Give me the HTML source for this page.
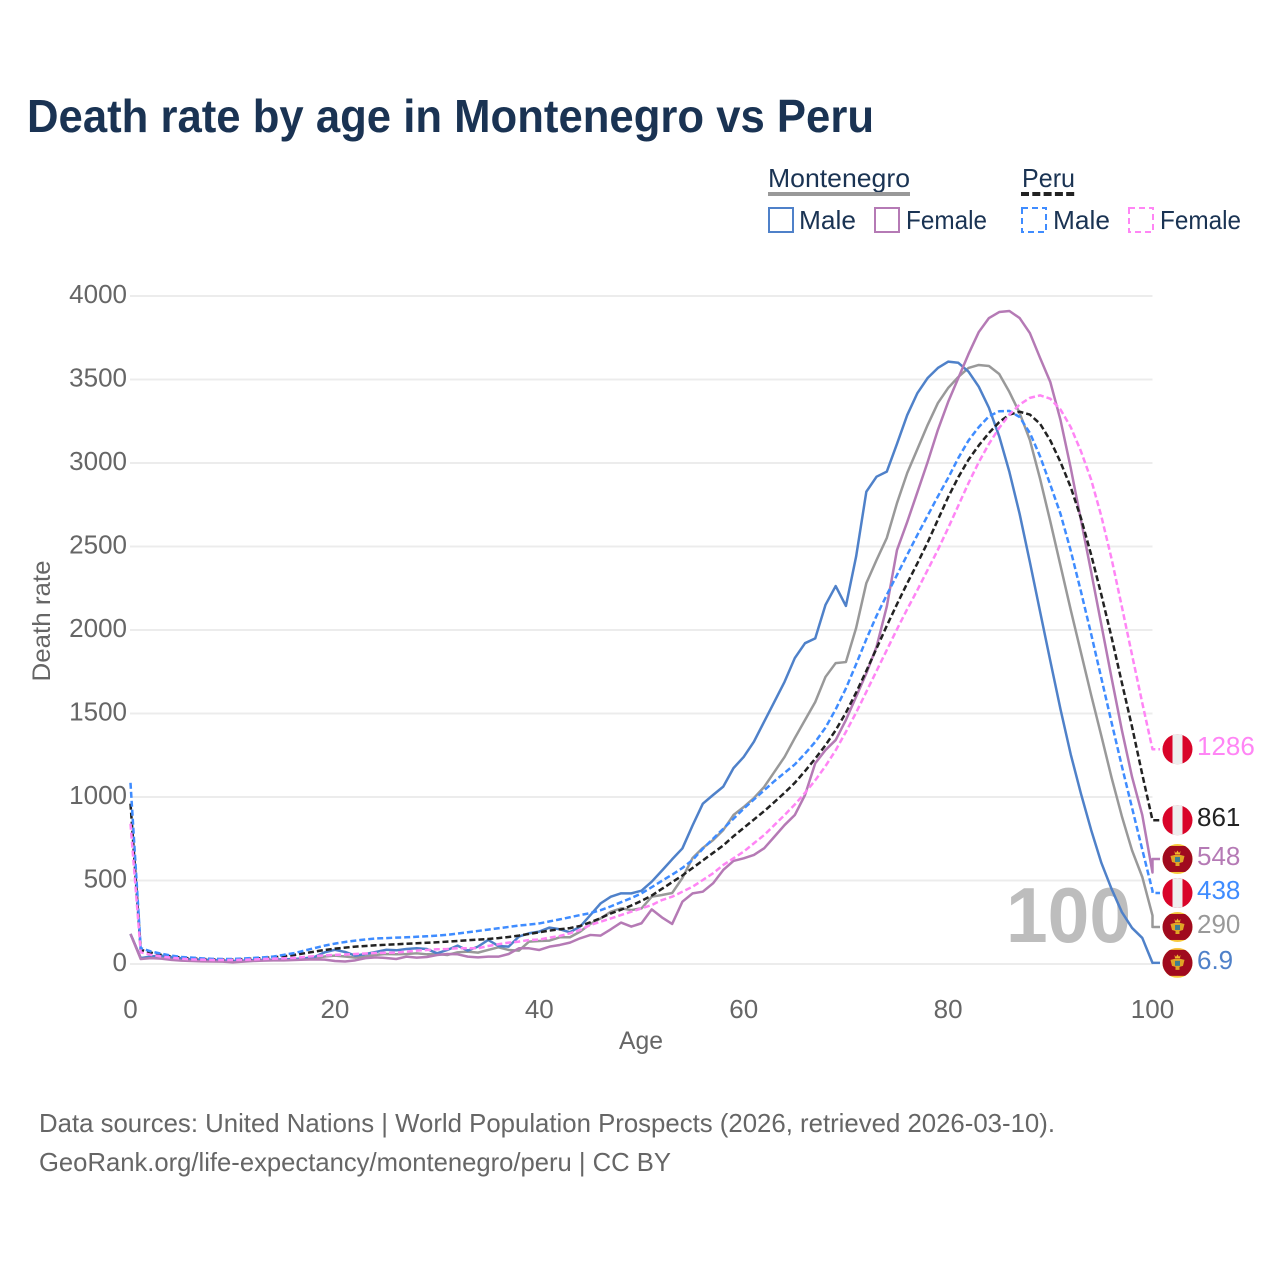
<!DOCTYPE html>
<html lang="en">
<head>
<meta charset="utf-8">
<title>Death rate by age in Montenegro vs Peru</title>
<style>
html,body{margin:0;padding:0;background:#fff;}
svg{display:block;font-family:"Liberation Sans",sans-serif;}
</style>
</head>
<body>
<svg id="chart" width="1280" height="1280" viewBox="0 0 1280 1280" xmlns="http://www.w3.org/2000/svg">
  <defs>
    <clipPath id="flag-clip"><circle cx="0" cy="0" r="15"/></clipPath>
    <symbol id="flag-peru" overflow="visible" viewBox="-15 -15 30 30" width="30" height="30">
      <g clip-path="url(#flag-clip)">
        <rect x="-15" y="-15" width="30" height="30" fill="#d90429"/>
        <rect x="-5" y="-15" width="10" height="30" fill="#eeeeee"/>
      </g>
    </symbol>
    <symbol id="flag-montenegro" overflow="visible" viewBox="-15 -15 30 30" width="30" height="30">
      <g clip-path="url(#flag-clip)">
        <rect x="-15" y="-15" width="30" height="30" fill="#f7c93e"/>
        <rect x="-15" y="-13" width="30" height="26" fill="#a00a1e"/>
        <path d="M-3 -8 L-1.5 -6 L0 -8.5 L1.5 -6 L3 -8 L2.5 -4.5 L-2.5 -4.5 Z" fill="#f0b92d"/>
        <path d="M-7 -3 L-3 -4 L3 -4 L7 -3 L5.5 3 L2 4 L2 7 L-2 7 L-2 4 L-5.5 3 Z" fill="#e0a526"/>
        <rect x="-2.5" y="-2" width="5" height="5" fill="#3f7f8f"/>
      </g>
    </symbol>
  </defs>

  <text x="27" y="132" font-size="46" font-weight="700" fill="#1a3353" textLength="847" lengthAdjust="spacingAndGlyphs">Death rate by age in Montenegro vs Peru</text>

  <g>
    <text x="768" y="187" font-size="26" fill="#1a3353" textLength="142" lengthAdjust="spacingAndGlyphs">Montenegro</text>
    <rect x="768" y="192" width="142" height="4" fill="#999999"/>
    <text x="1022" y="187" font-size="26" fill="#1a3353" textLength="53" lengthAdjust="spacingAndGlyphs">Peru</text>
    <line x1="1021" y1="194" x2="1075" y2="194" stroke="#222222" stroke-width="4" stroke-dasharray="8,3.3"/>

    <rect x="769" y="208" width="24" height="24" fill="none" stroke="#4f81c9" stroke-width="2"/>
    <text x="799" y="229" font-size="26" fill="#1a3353" textLength="57" lengthAdjust="spacingAndGlyphs">Male</text>
    <rect x="875" y="208" width="24" height="24" fill="none" stroke="#b57ab5" stroke-width="2"/>
    <text x="906" y="229" font-size="26" fill="#1a3353" textLength="81" lengthAdjust="spacingAndGlyphs">Female</text>
    <rect x="1022" y="208" width="24" height="24" fill="none" stroke="#3f8cff" stroke-width="2" stroke-dasharray="6,4"/>
    <text x="1053" y="229" font-size="26" fill="#1a3353" textLength="57" lengthAdjust="spacingAndGlyphs">Male</text>
    <rect x="1129" y="208" width="24" height="24" fill="none" stroke="#ff85f5" stroke-width="2" stroke-dasharray="6,4"/>
    <text x="1160" y="229" font-size="26" fill="#1a3353" textLength="81" lengthAdjust="spacingAndGlyphs">Female</text>
  </g>

  <g id="grid"></g>
  <g id="y-ticks"></g>
  <g id="x-ticks"></g>

  <text x="1006" y="942" font-size="78" font-weight="700" fill="#bdbdbd" textLength="125" lengthAdjust="spacingAndGlyphs">100</text>

  <text x="641" y="1049" font-size="25" fill="#666666" text-anchor="middle" textLength="44" lengthAdjust="spacingAndGlyphs">Age</text>
  <text transform="translate(50,621) rotate(-90)" font-size="25" fill="#666666" text-anchor="middle" textLength="121" lengthAdjust="spacingAndGlyphs">Death rate</text>

  <g id="series"></g>
  <g id="end-labels"></g>

  <text x="39" y="1132" font-size="26" fill="#666666" textLength="1016" lengthAdjust="spacingAndGlyphs">Data sources: United Nations | World Population Prospects (2026, retrieved 2026-03-10).</text>
  <text x="39" y="1171" font-size="26" fill="#666666" textLength="632" lengthAdjust="spacingAndGlyphs">GeoRank.org/life-expectancy/montenegro/peru | CC BY</text>
</svg>

<script>
const yTickValues = [0, 500, 1000, 1500, 2000, 2500, 3000, 3500, 4000];
const xTickValues = [0, 20, 40, 60, 80, 100];

const montenegroTotal = [
  180,35,40,40,33,27,24,21,20,18,
  15,17,20,23,25,25,27,30,35,45,
  50,45,38,45,55,60,58,60,64,58,
  60,54,70,74,68,84,100,84,80,134,
  138,140,160,160,194,240,273,313,333,323,
  333,403,413,425,515,635,695,742,802,892,
  940,994,1060,1150,1240,1353,1461,1569,1719,1802,
  1808,2012,2281,2419,2551,2760,2940,3084,3228,3359,
  3449,3515,3569,3587,3581,3533,3425,3299,3138,2905,
  2650,2385,2120,1865,1610,1365,1115,885,680,521,
  290];
const montenegroMale = [
  180,35,45,50,42,34,28,26,24,22,
  18,20,23,25,26,28,30,34,42,70,
  85,72,50,60,72,85,82,90,94,90,
  64,84,110,80,104,144,108,104,164,184,
  194,218,208,190,224,293,363,403,423,423,
  439,493,559,627,692,830,960,1012,1062,1173,
  1240,1331,1451,1570,1690,1832,1921,1950,2150,2263,
  2144,2440,2828,2918,2948,3115,3287,3419,3509,3569,
  3607,3600,3547,3457,3330,3160,2946,2695,2407,2110,
  1815,1525,1255,1020,802,605,449,311,216,156,
  6.9];
const montenegroFemale = [
  180,30,35,32,25,20,18,16,15,14,
  10,14,18,20,22,22,24,26,28,26,
  18,15,22,35,40,36,30,44,38,42,
  54,60,58,44,40,44,44,60,94,94,
  84,104,114,128,154,174,170,208,248,224,
  244,327,279,240,373,423,433,483,563,617,
  633,653,693,762,832,892,1012,1202,1281,1341,
  1461,1600,1740,1900,2140,2479,2647,2826,3006,3198,
  3365,3509,3653,3784,3868,3904,3910,3868,3778,3629,
  3485,3257,2970,2658,2347,2030,1712,1401,1120,892,
  548];
const peruTotal = [
  960,85,68,55,45,38,33,30,28,27,
  27,29,32,36,40,46,54,64,74,84,
  92,98,104,108,112,115,118,121,124,127,
  130,134,138,142,146,150,155,162,170,180,
  190,200,208,215,228,250,275,303,325,350,
  378,410,450,490,530,575,620,665,710,765,
  815,865,915,970,1025,1085,1155,1230,1310,1400,
  1505,1625,1755,1890,2025,2155,2280,2400,2525,2660,
  2795,2915,3020,3105,3180,3245,3290,3307,3290,3235,
  3135,3005,2855,2670,2450,2210,1955,1685,1420,1135,
  861];
const peruMale = [
  1085,95,75,62,50,42,38,34,31,30,
  30,33,36,40,45,55,65,80,95,110,
  122,132,140,147,153,155,158,160,163,166,
  170,175,182,190,198,206,214,222,230,236,
  243,255,267,280,293,305,322,345,370,395,
  423,460,498,535,575,623,690,750,810,870,
  930,985,1040,1095,1145,1195,1260,1330,1415,1525,
  1650,1795,1945,2085,2210,2330,2450,2570,2685,2800,
  2910,3030,3135,3215,3280,3310,3312,3275,3180,3040,
  2870,2695,2475,2230,1975,1710,1445,1185,935,685,
  438];
const peruFemale = [
  840,70,55,45,38,32,28,26,24,24,
  24,25,27,30,32,34,37,42,47,52,
  55,57,60,63,66,67,68,74,80,84,
  88,90,94,94,94,108,118,128,134,144,
  146,158,168,184,204,234,253,273,293,313,
  333,353,383,403,433,463,503,543,593,633,
  673,723,772,832,892,955,1025,1100,1185,1280,
  1390,1505,1630,1755,1880,2005,2125,2240,2360,2480,
  2610,2745,2880,3005,3115,3210,3290,3350,3390,3405,
  3385,3320,3215,3070,2900,2680,2425,2140,1850,1563,
  1286];

const NS = 'http://www.w3.org/2000/svg';
const X0 = 130.5, X1 = 1152.5, Y0 = 964, Y1 = 296, AGE_MAX = 100, RATE_MAX = 4000;
function xScale(age) { return X0 + (age / AGE_MAX) * (X1 - X0); }
function yScale(rate) { return Y0 - (rate / RATE_MAX) * (Y0 - Y1); }
function make(tag) { return document.createElementNS(NS, tag); }

const gridLayer = document.getElementById('grid');
const yTickLayer = document.getElementById('y-ticks');
yTickValues.forEach(function (v) {
  const line = make('line');
  
  
  line.setAttribute('x1', X0 - 0.5);
  line.setAttribute('x2', X1);
  line.setAttribute('y1', yScale(v));
  line.setAttribute('y2', yScale(v));
  line.setAttribute('stroke', '#ececec');
  line.setAttribute('stroke-width', '2');
  gridLayer.appendChild(line);

  const t = make('text');
  
  
  t.setAttribute('x', 127);
  t.setAttribute('y', yScale(v) + 7);
  t.setAttribute('text-anchor', 'end');
  t.setAttribute('font-size', '26');
  t.setAttribute('fill', '#666666');
  t.textContent = String(v);
  yTickLayer.appendChild(t);
});

const xTickLayer = document.getElementById('x-ticks');
xTickValues.forEach(function (v) {
  const t = make('text');
  
  
  t.setAttribute('x', xScale(v));
  t.setAttribute('y', 1018);
  t.setAttribute('text-anchor', 'middle');
  t.setAttribute('font-size', '26');
  t.setAttribute('fill', '#666666');
  t.textContent = String(v);
  xTickLayer.appendChild(t);
});

const seriesList = [
  { key: 'montenegro-total', values: montenegroTotal, color: '#999999', dash: '', flag: 'flag-montenegro' },
  { key: 'montenegro-male', values: montenegroMale, color: '#4f81c9', dash: '', flag: 'flag-montenegro' },
  { key: 'montenegro-female', values: montenegroFemale, color: '#b57ab5', dash: '', flag: 'flag-montenegro' },
  { key: 'peru-total', values: peruTotal, color: '#222222', dash: '6,3', flag: 'flag-peru' },
  { key: 'peru-male', values: peruMale, color: '#3f8cff', dash: '6,3', flag: 'flag-peru' },
  { key: 'peru-female', values: peruFemale, color: '#ff85f5', dash: '6,3', flag: 'flag-peru' }
];

/* Spread end labels apart: overlapping labels merge into clusters centred on their mean. */
const LABEL_GAP = 34;
function dodge(targets) {
  const order = targets.map(function (y, i) { return { y: y, i: i }; }).sort(function (a, b) { return a.y - b.y; });
  let clusters = order.map(function (o) { return { items: [o], mean: o.y }; });
  let merged = true;
  while (merged) {
    merged = false;
    for (let c = 0; c < clusters.length - 1; c++) {
      const a = clusters[c], b = clusters[c + 1];
      const aEnd = a.mean + (a.items.length - 1) * LABEL_GAP / 2;
      const bStart = b.mean - (b.items.length - 1) * LABEL_GAP / 2;
      if (bStart - aEnd < LABEL_GAP) {
        const items = a.items.concat(b.items);
        const mean = items.reduce(function (s, o) { return s + o.y; }, 0) / items.length;
        clusters.splice(c, 2, { items: items, mean: mean });
        merged = true;
        break;
      }
    }
  }
  const out = [];
  clusters.forEach(function (c) {
    c.items.forEach(function (o, k) {
      out[o.i] = c.mean + (k - (c.items.length - 1) / 2) * LABEL_GAP;
    });
  });
  return out;
}

const lastValues = seriesList.map(function (s) { return s.values[s.values.length - 1]; });
const labelYs = dodge(lastValues.map(yScale));

const seriesLayer = document.getElementById('series');
const endLayer = document.getElementById('end-labels');
seriesList.forEach(function (s, idx) {
  const points = s.values.map(function (v, age) { return xScale(age).toFixed(2) + ',' + yScale(v).toFixed(2); });
  const ly = labelYs[idx];
  points.push(xScale(AGE_MAX).toFixed(2) + ',' + ly.toFixed(2));
  points.push('1160,' + ly.toFixed(2));

  const line = make('polyline');
  
  
  line.setAttribute('points', points.join(' '));
  line.setAttribute('fill', 'none');
  line.setAttribute('stroke', s.color);
  line.setAttribute('stroke-width', '2.5');
  line.setAttribute('stroke-linejoin', 'round');
  if (s.dash) { line.setAttribute('stroke-dasharray', s.dash); }
  seriesLayer.appendChild(line);

  const flag = make('use');
  
  
  flag.setAttribute('href', '#' + s.flag);
  flag.setAttribute('x', 1162.5);
  flag.setAttribute('y', ly - 15);
  flag.setAttribute('width', 30);
  flag.setAttribute('height', 30);
  endLayer.appendChild(flag);

  const label = make('text');
  
  
  label.setAttribute('x', 1197);
  label.setAttribute('y', ly + 6);
  label.setAttribute('font-size', '26');
  label.setAttribute('fill', s.color);
  label.textContent = String(lastValues[idx]);
  endLayer.appendChild(label);
});
</script>
</body>
</html>
